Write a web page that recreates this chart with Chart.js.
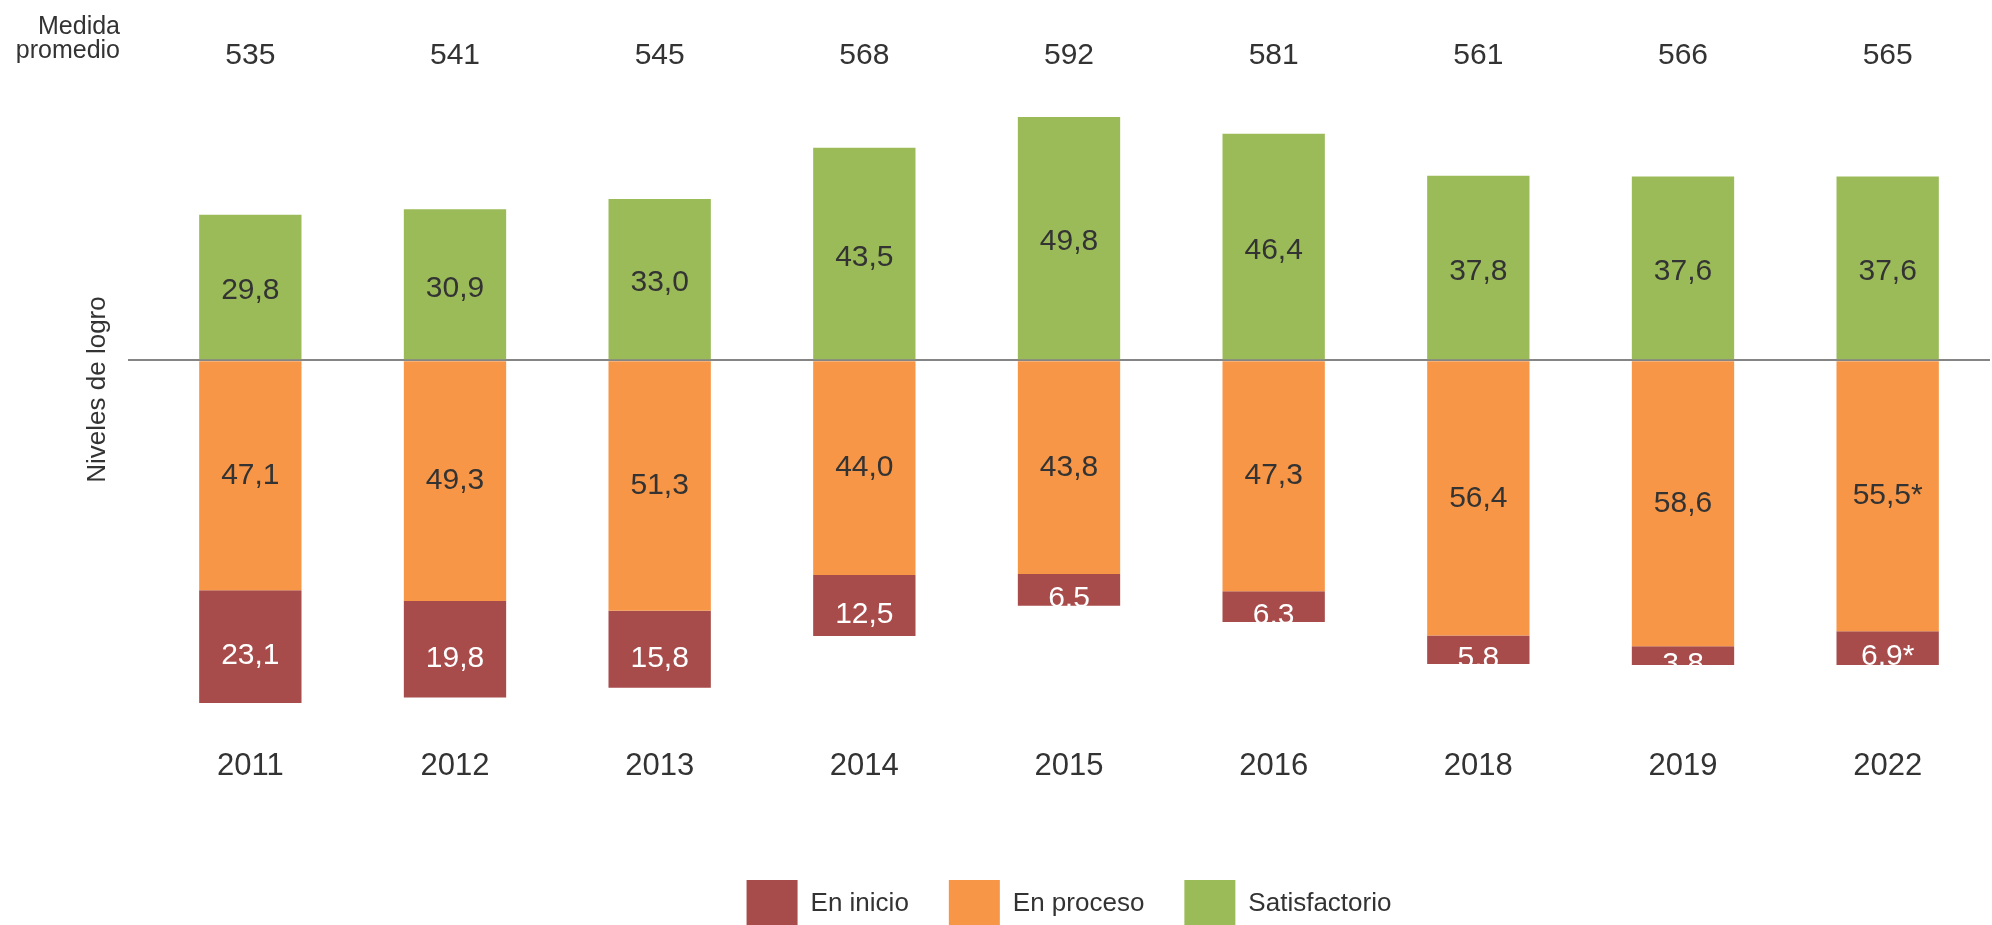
<!DOCTYPE html>
<html>
<head>
<meta charset="utf-8">
<script src="https://cdn.jsdelivr.net/npm/chart.js@4.4.1/dist/chart.umd.min.js"></script>
<style>
  html, body { margin: 0; padding: 0; background: #ffffff; overflow: hidden; }
  #wrap { width: 1992px; height: 925px; overflow: hidden; }
  canvas { display: block; }
</style>
</head>
<body>
<div id="wrap"><canvas id="c" width="1992" height="938"></canvas></div>
<script>
const years = ['2011', '2012', '2013', '2014', '2015', '2016', '2018', '2019', '2022'];
const medidaPromedio = [535, 541, 545, 568, 592, 581, 561, 566, 565];
const satisfactorio = [29.8, 30.9, 33.0, 43.5, 49.8, 46.4, 37.8, 37.6, 37.6];
const enProceso = [47.1, 49.3, 51.3, 44.0, 43.8, 47.3, 56.4, 58.6, 55.5];
const enInicio = [23.1, 19.8, 15.8, 12.5, 6.5, 6.3, 5.8, 3.8, 6.9];
const marksProceso = ['', '', '', '', '', '', '', '', '*'];
const marksInicio = ['', '', '', '', '', '', '', '', '*'];
const marksSatisf = ['', '', '', '', '', '', '', '', ''];

const FONT = "'Liberation Sans', Arial, Helvetica, sans-serif";
const TEXT = '#333333';
const C_INICIO = '#A84B4B';
const C_PROCESO = '#F79646';
const C_SATISF = '#9BBB59';

const fmt = v => v.toFixed(1).replace('.', ',');

const valueLabels = {
  id: 'valueLabels',
  afterDatasetsDraw(chart) {
    const ctx = chart.ctx;
    ctx.save();
    ctx.font = '30px ' + FONT;
    ctx.textAlign = 'center';
    ctx.textBaseline = 'middle';
    chart.data.datasets.forEach((ds, di) => {
      const meta = chart.getDatasetMeta(di);
      meta.data.forEach((el, i) => {
        const raw = Math.abs(ds.data[i]);
        const txt = fmt(raw) + (ds.marks ? ds.marks[i] : '');
        const cy = (el.y + el.base) / 2 + (ds.labelShift || 0);
        ctx.fillStyle = ds.labelColor;
        ctx.fillText(txt, el.x, cy);
      });
    });
    ctx.restore();
  }
};

const topRow = {
  id: 'topRow',
  afterDraw(chart) {
    const ctx = chart.ctx;
    const xs = chart.scales.x;
    ctx.save();
    ctx.fillStyle = TEXT;
    ctx.textBaseline = 'alphabetic';
    ctx.textAlign = 'right';
    ctx.font = '25px ' + FONT;
    ctx.fillText('Medida', 120, 34);
    ctx.fillText('promedio', 120, 58);
    ctx.textAlign = 'center';
    ctx.font = '30px ' + FONT;
    medidaPromedio.forEach((v, i) => {
      ctx.fillText(String(v), xs.getPixelForValue(i), 64);
    });
    ctx.restore();
  }
};

const legendRank = [1, 0, 2];

new Chart(document.getElementById('c'), {
  type: 'bar',
  data: {
    labels: years,
    datasets: [
      { label: 'En proceso', data: enProceso.map(v => -v), backgroundColor: C_PROCESO,
        marks: marksProceso, labelColor: TEXT, labelShift: 0 },
      { label: 'En inicio', data: enInicio.map(v => -v), backgroundColor: C_INICIO,
        marks: marksInicio, labelColor: '#ffffff', labelShift: 9 },
      { label: 'Satisfactorio', data: satisfactorio, backgroundColor: C_SATISF,
        marks: marksSatisf, labelColor: TEXT, labelShift: 4 }
    ]
  },
  options: {
    responsive: false,
    animation: false,
    events: [],
    datasets: { bar: { categoryPercentage: 1.0, barPercentage: 0.5, borderWidth: 0, clip: false } },
    layout: { padding: { top: 77, right: 2, left: 0, bottom: 0 } },
    plugins: {
      tooltip: { enabled: false },
      legend: {
        position: 'bottom',
        fullSize: false,
        labels: {
          boxWidth: 51,
          boxHeight: 48,
          padding: 40,
          color: TEXT,
          font: { family: FONT, size: 26 },
          sort: (a, b) => legendRank[a.datasetIndex] - legendRank[b.datasetIndex]
        }
      }
    },
    scales: {
      x: {
        stacked: true,
        grid: { display: false, drawTicks: false },
        border: { display: false },
        ticks: { color: TEXT, font: { family: FONT, size: 31 }, padding: 46, maxRotation: 0 },
        afterFit: s => { s.height = 138; }
      },
      y: {
        stacked: true,
        min: -70,
        max: 58,
        border: { display: false },
        ticks: { display: false, stepSize: 10 },
        grid: {
          drawTicks: true,
          tickLength: 20,
          lineWidth: 2,
          color: c => (c.tick && c.tick.value === 0) ? '#858585' : 'rgba(0,0,0,0)'
        },
        title: {
          display: true,
          text: 'Niveles de logro',
          color: TEXT,
          font: { family: FONT, size: 26 },
          padding: { top: 82, bottom: 0 }
        },
        afterFit: s => { s.width = 148; }
      }
    }
  },
  plugins: [valueLabels, topRow]
});
</script>
</body>
</html>
